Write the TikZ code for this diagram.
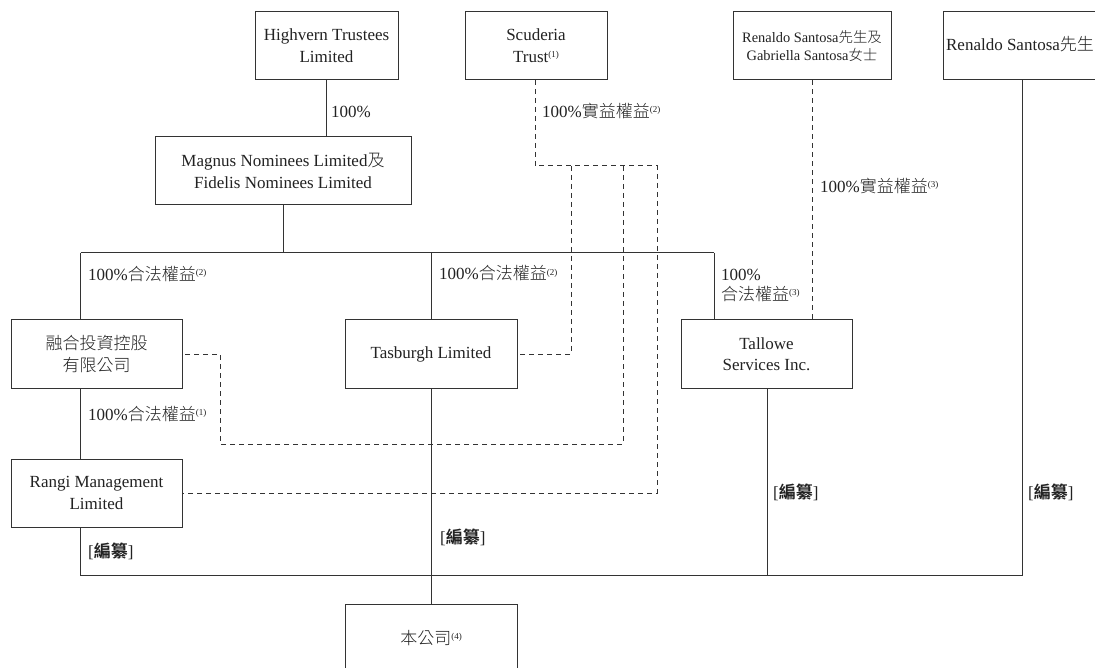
\documentclass[tikz,border=0pt]{standalone}
\usepackage{fontspec}
\setmainfont{Liberation Serif}
\newfontfamily\cjk{Noto Sans CJK TC}[UprightFont=* Light,BoldFont=* Bold]
\newcommand{\zh}[1]{{\cjk #1}}
\newcommand{\sups}[1]{\raisebox{5pt}{\fontsize{9}{9}\selectfont(#1)}}
\tikzset{
  box/.style={draw=linec,line width=1pt,fill=white,minimum width=#1,minimum height=68pt,inner sep=0pt,align=center,text=txtc,font=\fontsize{17}{21.5}\selectfont},
  lbl/.style={inner sep=0pt,anchor=base west,text=txtc,font=\fontsize{17}{20}\selectfont,align=left},
  solidline/.style={draw=linec,line width=1pt},
  dashline/.style={draw=linec,line width=1pt,dash pattern=on 5pt off 4pt}
}
\definecolor{linec}{HTML}{333333}
\definecolor{txtc}{HTML}{222222}
\begin{document}
\begin{tikzpicture}[x=1pt,y=-1pt]
\useasboundingbox (0,0) rectangle (1095,668);
% boxes
\node[box=143pt] (hv) at (326.5,45.5) {Highvern Trustees\\Limited};
\node[box=142pt] (sc) at (536,45.5) {Scuderia\\Trust\sups{1}};
\node[box=158pt,font=\fontsize{14.4}{18}\selectfont] (rg) at (812,46) {Renaldo Santosa\zh{先生及}\\Gabriella Santosa\zh{女士}};
\node[box=154pt] (rs) at (1020,46) {\raisebox{5pt}{Renaldo Santosa\zh{先生}}};
\node[box=256pt] (mg) at (283,171) {Magnus Nominees Limited\zh{及}\\Fidelis Nominees Limited};
\node[box=171pt] (rh) at (96.5,354) {\zh{融合投資控股}\\\zh{有限公司}};
\node[box=172pt] (tb) at (431,354) {Tasburgh Limited};
\node[box=171pt] (ta) at (766.5,354) {Tallowe\\Services Inc.};
\node[box=171pt] (rm) at (96.5,493) {Rangi Management\\Limited};
\node[box=172pt] (co) at (431,638) {\zh{本公司}\sups{4}};
% junctions
\coordinate (jL) at (80.5,253);
\coordinate (jM) at (431,253);
\coordinate (jR) at (714,253);
\coordinate (jMg) at (283,253);
\coordinate (bL) at (80.5,575.5);
\coordinate (bM) at (431,575.5);
\coordinate (bT) at (767,575.5);
\coordinate (bR) at (1022,575.5);
\coordinate (dTop) at (535,166);
\coordinate (d1) at (571,166);
\coordinate (d2) at (623,166);
\coordinate (d3) at (657,166);
\coordinate (d2b) at (623,444);
\coordinate (d0b) at (220.5,444);
\coordinate (d0t) at (220.5,354);
\coordinate (d1b) at (571,354);
\coordinate (d3b) at (657,493);
% solid connectors
\draw[solidline] (hv.south) -- (hv.south |- mg.north);
\draw[solidline] (mg.south) -- (jMg);
\draw[solidline] (jL) -- (jR);
\draw[solidline] (jL) -- (jL |- rh.north);
\draw[solidline] (jM) -- (tb.north);
\draw[solidline] (jR) -- (jR |- ta.north);
\draw[solidline] (jL |- rh.south) -- (jL |- rm.north);
\draw[solidline] (jL |- rm.south) -- (bL) -- (bR) -- (bR |- rs.south);
\draw[solidline] (tb.south) -- (co.north);
\draw[solidline] (bT |- ta.south) -- (bT);
% dashed connectors
\draw[dashline] (dTop |- sc.south) -- (dTop) -- (d3) -- (d3b) -- (rm.east);
\draw[dashline] (d1) -- (d1b) -- (tb.east);
\draw[dashline] (d2) -- (d2b) -- (d0b) -- (d0t) -- (rh.east);
\draw[dashline] (rg.south) -- (rg.south |- ta.north);
% labels
\node[lbl] (l1) at (331,118) {100\%};
\node[lbl] (l2) at (542,118) {100\%\zh{實益權益}\sups{2}};
\node[lbl] (l3) at (820,193) {100\%\zh{實益權益}\sups{3}};
\node[lbl] (l4) at (88,281) {100\%\zh{合法權益}\sups{2}};
\node[lbl] (l5) at (439,280) {100\%\zh{合法權益}\sups{2}};
\node[lbl] (l6) at (721,301) {100\%\\\zh{合法權益}\sups{3}};
\node[lbl] (l7) at (88,420) {100\%\zh{合法權益}\sups{1}};
\node[lbl] (r1) at (88,557) {[\zh{\bfseries 編纂}]};
\node[lbl] (r2) at (440,543) {[\zh{\bfseries 編纂}]};
\node[lbl] (r3) at (773,498) {[\zh{\bfseries 編纂}]};
\node[lbl] (r4) at (1028,498) {[\zh{\bfseries 編纂}]};
\end{tikzpicture}
\end{document}
